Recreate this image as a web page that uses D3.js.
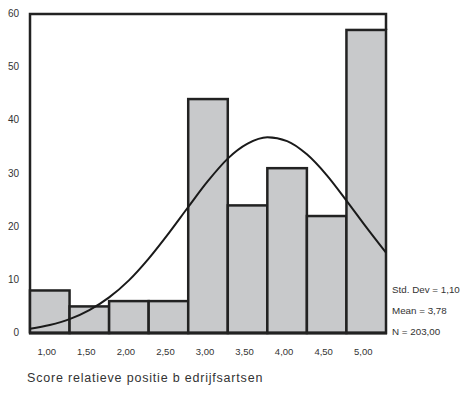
<!DOCTYPE html>
<html>
<head>
<meta charset="utf-8">
<script src="https://cdn.jsdelivr.net/npm/d3@7"></script>
<style>
  body { margin: 0; background: #fff; }
  text { font-family: "Liberation Sans", Arial, sans-serif; fill: #333; }
</style>
</head>
<body>
<div id="chart"></div>
<script>
// histogram bins (centre values) and counts
const binCentres = [1.0, 1.5, 2.0, 2.5, 3.0, 3.5, 4.0, 4.5, 5.0];
const counts = [8, 5, 6, 6, 44, 24, 31, 22, 57];
const tickLabels = ['1,00', '1,50', '2,00', '2,50', '3,00', '3,50', '4,00', '4,50', '5,00'];
const yTicks = [0, 10, 20, 30, 40, 50, 60];

// normal curve
const curveX = [0.75, 1.0, 1.25, 1.5, 1.75, 2.0, 2.25, 2.5, 2.75, 3.0, 3.25, 3.5, 3.75, 4.0, 4.25, 4.5, 4.75, 5.0, 5.25];
const curveY = [0.8, 1.5, 2.6, 4.3, 6.7, 9.9, 14.0, 18.7, 23.7, 28.6, 32.8, 35.6, 36.8, 36.1, 33.6, 29.7, 24.9, 19.9, 15.1];

const stats = ['Std. Dev = 1,10', 'Mean = 3,78', 'N = 203,00'];
const xTitle = 'Score relatieve positie b edrijfsartsen';

const W = 461, H = 393;
const svg = d3.select('#chart').append('svg')
  .attr('width', W)
  .attr('height', H);

const x = d3.scaleLinear().domain([0.75, 5.25]).range([30, 386]);
const y = d3.scaleLinear().domain([0, 60]).range([333, 14]);
const half = 0.25;

// frame (left + top + right)
svg.append('path')
  .attr('d', `M${x(0.75)},${y(0)} V${y(60)} H${x(5.25)} V${y(counts[8])}`)
  .attr('fill', 'none')
  .attr('stroke', '#222')
  .attr('stroke-width', 2.5);

// bars
svg.selectAll('rect.bar')
  .data(counts)
  .enter()
  .append('rect')
  .attr('class', 'bar')
  .attr('x', (d, i) => x(binCentres[i] - half))
  .attr('y', d => y(d))
  .attr('width', (d, i) => x(binCentres[i] + half) - x(binCentres[i] - half))
  .attr('height', d => y(0) - y(d))
  .attr('fill', '#c8c9cb')
  .attr('stroke', '#222')
  .attr('stroke-width', 2.5);

// baseline
svg.append('line')
  .attr('x1', x(0.75) - 1).attr('x2', x(5.25) + 1)
  .attr('y1', y(0)).attr('y2', y(0))
  .attr('stroke', '#222')
  .attr('stroke-width', 3);

// normal curve
const line = d3.line()
  .x((d, i) => x(curveX[i]))
  .y(d => y(d))
  .curve(d3.curveMonotoneX);

svg.append('path')
  .datum(curveY)
  .attr('d', line)
  .attr('fill', 'none')
  .attr('stroke', '#1a1a1a')
  .attr('stroke-width', 2);

// y tick labels
svg.selectAll('text.ylab')
  .data(yTicks)
  .enter()
  .append('text')
  .attr('class', 'ylab')
  .attr('x', 19)
  .attr('y', d => y(d) + 3)
  .attr('text-anchor', 'end')
  .attr('font-size', 10)
  .text(d => d);

// x tick labels
svg.selectAll('text.xlab')
  .data(tickLabels)
  .enter()
  .append('text')
  .attr('class', 'xlab')
  .attr('x', (d, i) => x(binCentres[i]) - 3)
  .attr('y', 355)
  .attr('text-anchor', 'middle')
  .attr('font-size', 9.5)
  .text(d => d);

// stats box text
svg.selectAll('text.stat')
  .data(stats)
  .enter()
  .append('text')
  .attr('class', 'stat')
  .attr('x', 392)
  .attr('y', (d, i) => 293 + i * 21)
  .attr('font-size', 9.8)
  .text(d => d);

svg.append('text')
  .attr('x', 27)
  .attr('y', 382)
  .attr('font-size', 12.5)
  .attr('letter-spacing', 0.8)
  .text(xTitle);
</script>
</body>
</html>
